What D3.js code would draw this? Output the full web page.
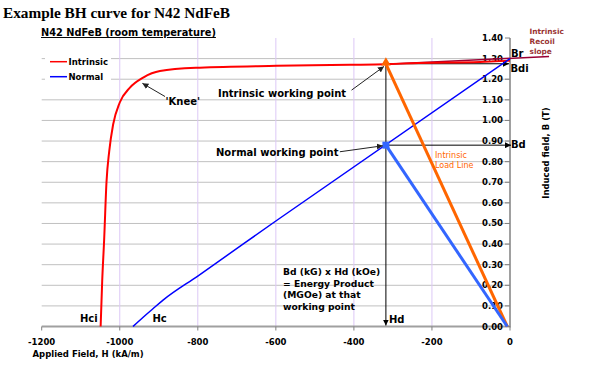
<!DOCTYPE html>
<html>
<head>
<meta charset="utf-8">
<script src="https://cdn.jsdelivr.net/npm/d3@7"></script>
<style>
  body { margin: 0; background: #fff; }
  svg { display: block; font-family: "DejaVu Sans", Verdana, sans-serif; }
  .bold { font-weight: bold; }
</style>
</head>
<body>
<div id="chart"></div>
<script>
'use strict';

// axis ticks
const hTicks = [-1200, -1000, -800, -600, -400, -200, 0];
const bTicks = [0, 0.1, 0.2, 0.3, 0.4, 0.5, 0.6, 0.7, 0.8, 0.9, 1.0, 1.1, 1.2, 1.3, 1.4];
const hGrid = [-1000, -800, -600, -400, -200];
const bGrid = [0.1, 0.2, 0.3, 0.4, 0.5, 0.6, 0.7, 0.8, 0.9, 1.0, 1.1, 1.2, 1.3];

// intrinsic (J) curve, [H kA/m, B T]
const intrinsicH = [-1049, -1045, -1040, -1034, -1027, -1017, -1000, -974, -940, -897, -795, -598, -410, -318, -250, -77, 0];
const intrinsicB = [0, 0.22, 0.42, 0.70, 0.85, 0.98, 1.087, 1.159, 1.208, 1.240, 1.256, 1.265, 1.270, 1.273, 1.278, 1.284, 1.29];

// normal (B) curve
const normalH = [-966, -940, -915, -889, -800, -600, 0];
const normalB = [0, 0.045, 0.086, 0.128, 0.245, 0.512, 1.30];

// working point
const hd = -318;
const bd = 0.88;
const bdi = 1.275;
const loadEndH = -7;

// intrinsic recoil slope
const recoilH = [-318, 100];
const recoilB = [1.273, 1.31];

// annotation arrows [tailH, tailB, tipH, tipB]
const kneeArrow = [-884, 1.116, -942, 1.18];
const intrinsicArrow = [-406, 1.147, -323, 1.262];
const normalArrow = [-436, 0.848, -326, 0.877];

const W = 595, H = 366;
const x = d3.scaleLinear().domain([-1200, 0]).range([41.7, 510]);
const y = d3.scaleLinear().domain([0, 1.4]).range([326.5, 38]);

const svg = d3.select('#chart').append('svg').attr('width', W).attr('height', H);

const defs = svg.append('defs');
const marker = (id, color, size) => {
  defs.append('marker')
    .attr('id', id)
    .attr('viewBox', '0 0 10 10')
    .attr('refX', 10).attr('refY', 5)
    .attr('markerWidth', size).attr('markerHeight', size)
    .attr('markerUnits', 'userSpaceOnUse')
    .attr('orient', 'auto')
    .append('path').attr('d', 'M0,0L10,5L0,10z').attr('fill', color);
};
marker('arr', '#000', 6);
marker('arrg', '#222', 6);

// gridlines
svg.append('g').selectAll('line').data(bGrid).enter().append('line')
  .attr('x1', x(-1200)).attr('x2', x(0))
  .attr('y1', (d) => y(d)).attr('y2', (d) => y(d))
  .attr('stroke', '#c0c0c0').attr('stroke-width', 1);
svg.append('g').selectAll('line').data(hGrid).enter().append('line')
  .attr('x1', (d) => x(d)).attr('x2', (d) => x(d))
  .attr('y1', y(1.4)).attr('y2', y(0))
  .attr('stroke', '#dcc8f6').attr('stroke-width', 1);

// axes
svg.append('line')
  .attr('x1', x(-1200)).attr('x2', x(0) + 1).attr('y1', y(0)).attr('y2', y(0))
  .attr('stroke', '#a0a0a0').attr('stroke-width', 2);
svg.append('line')
  .attr('x1', x(0)).attr('x2', x(0)).attr('y1', y(1.4)).attr('y2', y(0))
  .attr('stroke', '#a0a0a0').attr('stroke-width', 2);

svg.append('g').selectAll('line').data(hTicks).enter().append('line')
  .attr('x1', (d) => x(d)).attr('x2', (d) => x(d))
  .attr('y1', y(0)).attr('y2', y(0) + 4)
  .attr('stroke', '#808080');
svg.append('g').selectAll('line').data(bTicks).enter().append('line')
  .attr('x1', x(0) - 5).attr('x2', x(0))
  .attr('y1', (d) => y(d)).attr('y2', (d) => y(d))
  .attr('stroke', '#808080');

svg.append('g').selectAll('text').data(hTicks).enter().append('text')
  .attr('class', 'bold')
  .attr('x', (d) => x(d)).attr('y', 344.5)
  .attr('text-anchor', 'middle').attr('font-size', 8.5)
  .text((d) => String(d));
svg.append('g').selectAll('text').data(bTicks).enter().append('text')
  .attr('class', 'bold')
  .attr('x', x(0) - 7).attr('y', (d) => y(d) + 3)
  .attr('text-anchor', 'end').attr('font-size', 8.5)
  .text((d) => d.toFixed(2));

svg.append('text').attr('class', 'bold')
  .attr('x', 32.5).attr('y', 356.5).attr('font-size', 8.5)
  .text('Applied Field, H (kA/m)');
svg.append('text').attr('class', 'bold')
  .attr('transform', 'translate(548.5,153) rotate(-90)')
  .attr('text-anchor', 'middle').attr('font-size', 8.5)
  .text('Induced field, B (T)');

// legend
svg.append('rect').attr('x', 45).attr('y', 53).attr('width', 66).attr('height', 31).attr('fill', '#fff');
const legend = [['Intrinsic', '#ff0000', 61.7], ['Normal', '#0000ff', 76.7]];
legend.forEach(([name, color, ly]) => {
  svg.append('line').attr('x1', 50).attr('x2', 67).attr('y1', ly).attr('y2', ly)
    .attr('stroke', color).attr('stroke-width', 1.5);
  svg.append('text').attr('class', 'bold').attr('x', 68.5).attr('y', ly + 3.6)
    .attr('font-size', 8.5).text(name);
});

const line = d3.line().x((d) => x(d[0])).y((d) => y(d[1]));
const curve = d3.line().x((d) => x(d[0])).y((d) => y(d[1])).curve(d3.curveMonotoneX);

// working point guide lines
svg.append('line')
  .attr('x1', x(hd)).attr('x2', x(hd)).attr('y1', y(bdi)).attr('y2', y(0) - 1)
  .attr('stroke', '#000').attr('stroke-width', 1).attr('marker-end', 'url(#arr)');
svg.append('line')
  .attr('x1', x(hd)).attr('x2', x(0) - 1).attr('y1', y(bdi)).attr('y2', y(bdi))
  .attr('stroke', '#000').attr('stroke-width', 1).attr('marker-end', 'url(#arr)');
svg.append('line')
  .attr('x1', x(hd)).attr('x2', x(0) + 1).attr('y1', y(bd)).attr('y2', y(bd))
  .attr('stroke', '#000').attr('stroke-width', 1).attr('marker-end', 'url(#arr)');

// curves
const intrinsic = intrinsicH.map((h, i) => [h, intrinsicB[i]]);
const normal = normalH.map((h, i) => [h, normalB[i]]);

svg.append('path').datum(recoilH.map((h, i) => [h, recoilB[i]]))
  .attr('d', line).attr('fill', 'none').attr('stroke', '#990033').attr('stroke-width', 1.5);
svg.append('path').datum(intrinsic)
  .attr('d', curve).attr('fill', 'none').attr('stroke', '#ff0000').attr('stroke-width', 2);
svg.append('path').datum(normal)
  .attr('d', curve).attr('fill', 'none').attr('stroke', '#0000ff').attr('stroke-width', 1.5);

// load lines
svg.append('path').datum([[hd, bdi], [loadEndH, 0]])
  .attr('d', line).attr('fill', 'none').attr('stroke', '#ff6600').attr('stroke-width', 3);
svg.append('path').datum([[hd, bd], [loadEndH, 0]])
  .attr('d', line).attr('fill', 'none').attr('stroke', '#3366ff').attr('stroke-width', 3);

svg.append('path')
  .attr('transform', `translate(${x(hd)},${y(bdi) - 1})`)
  .attr('d', d3.symbol(d3.symbolTriangle, 40)())
  .attr('fill', '#ff6600');
svg.append('rect')
  .attr('x', x(hd) - 3.5).attr('y', y(bd) - 3.5).attr('width', 7).attr('height', 7)
  .attr('fill', '#3366ff');

// annotation arrows
[kneeArrow, intrinsicArrow, normalArrow].forEach((a) => {
  svg.append('line')
    .attr('x1', x(a[0])).attr('y1', y(a[1])).attr('x2', x(a[2])).attr('y2', y(a[3]))
    .attr('stroke', '#222').attr('stroke-width', 1).attr('marker-end', 'url(#arrg)');
});

// texts
svg.append('text')
  .attr('x', 3).attr('y', 18.3)
  .attr('font-family', '"Liberation Serif", "Times New Roman", serif')
  .attr('font-weight', 'bold').attr('font-size', 15.3)
  .text('Example BH curve for N42 NdFeB');
svg.append('text').attr('class', 'bold')
  .attr('x', 41).attr('y', 36).attr('font-size', 9.8)
  .attr('text-decoration', 'underline')
  .text('N42 NdFeB (room temperature)');

const labels = [
  ['Intrinsic working point', 218, 96.5, 10],
  ['Normal working point', 216, 155.7, 10],
  ["'Knee'", 165.5, 104.5, 10],
  ['Hci', 80, 322, 10],
  ['Hc', 152.5, 322, 10],
  ['Hd', 389, 322.5, 10],
  ['Br', 511, 57, 10],
  ['Bdi', 510.5, 72, 10],
  ['Bd', 511, 147.5, 10]
];
labels.forEach(([t, lx, ly, fs]) => {
  svg.append('text').attr('class', 'bold').attr('x', lx).attr('y', ly)
    .attr('font-size', fs).text(t);
});

const energy = ['Bd (kG) x Hd (kOe)', '= Energy Product', '(MGOe) at that', 'working point'];
energy.forEach((t, i) => {
  svg.append('text').attr('class', 'bold')
    .attr('x', 283).attr('y', 275 + i * 11.7).attr('font-size', 9.2).text(t);
});

['Intrinsic', 'Load Line'].forEach((t, i) => {
  svg.append('text').attr('x', 435).attr('y', 158 + i * 10.3)
    .attr('font-size', 8).attr('fill', '#ff6600').text(t);
});

['Intrinsic', 'Recoil', 'slope'].forEach((t, i) => {
  svg.append('text').attr('class', 'bold').attr('x', 529.5).attr('y', 33.5 + i * 10)
    .attr('font-size', 7.4).attr('fill', '#993333').text(t);
});
</script>
</body>
</html>
